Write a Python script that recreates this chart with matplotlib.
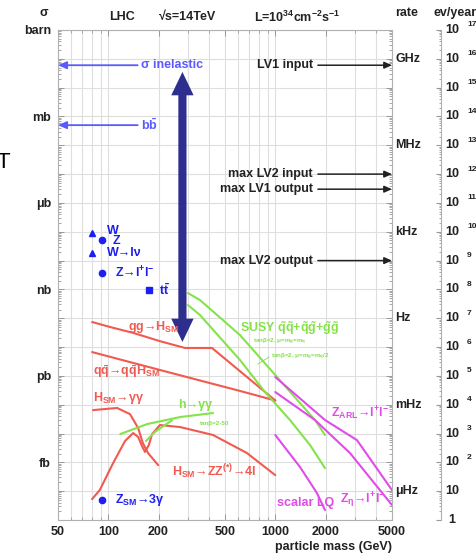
import matplotlib
matplotlib.use("Agg")
import matplotlib.pyplot as plt
import matplotlib.transforms as mtransforms
from matplotlib.ticker import FixedLocator, FuncFormatter, LogLocator, NullFormatter

plt.rcParams['font.family'] = ['Liberation Sans', 'DejaVu Sans']
plt.rcParams['font.weight'] = 'bold'
plt.rcParams['mathtext.default'] = 'regular'

RED = '#f05a50'
GREEN = '#86e24a'
MAGENTA = '#e04ce8'
BLUE = '#1e1ef0'
LIGHT_BLUE = '#5a5aff'
NAVY = '#2e2e8e'
GRID = '#dedede'
FS = 9

# ---------------- data: mass in GeV, cross-section in pb ----------------
sigma_inelastic = 6e10
sigma_bb = 5e8
arrow_left_end = 150          # GeV, start of the horizontal reference arrows

w_mass, w_sigma = 80.4, 9.0e4
z_mass, z_sigma = 91.2, 5.2e4
wlnu_sigma = 1.8e4
zll_sigma = 3.7e3
top_mass, tt_sigma = 175, 950
z3g_sigma = 4.9e-5

gg_h_mass = [80, 102, 141, 204, 288, 418, 1000]
gg_h_sigma = [74, 50, 31, 16, 9.3, 9.3, 0.14]

qq_h_mass = [80, 204, 615, 1000]
qq_h_sigma = [6.7, 1.6, 0.30, 0.14]

h_gamgam_mass = [81, 113, 135, 151, 161, 173, 199]
h_gamgam_sigma = [0.065, 0.077, 0.047, 0.0155, 0.0047, 0.0021, 0.0008]

h_zz_mass = [80, 89, 107, 126, 141, 151, 159, 166, 175, 183, 204, 269, 424, 677, 1000]
h_zz_sigma = [5.3e-5, 1.1e-4, 9.5e-4, 5.5e-3, 1.04e-2, 7.6e-3, 3.7e-3, 2.3e-3,
              4.0e-3, 9.6e-3, 1.97e-2, 1.68e-2, 8.9e-3, 2.1e-3, 3.6e-4]

susy_h_mass_a = [118, 171, 269, 424]
susy_h_sigma_a = [9.6e-3, 0.0213, 0.0373, 0.0514]
susy_h_mass_b = [168, 190, 241]
susy_h_sigma_b = [5.5e-3, 1.13e-2, 2.9e-2]

susy_mass_a = [300, 354, 615, 1000, 1729, 1985]
susy_sigma_a = [748, 428, 26, 1.07, 0.0294, 8.9e-3]
susy_mass_b = [300, 354, 615, 868, 1225, 1614, 1985]
susy_sigma_b = [287, 129, 3.55, 0.275, 0.0294, 4.0e-3, 6.3e-4]

zarl_mass = [1000, 1985, 3085, 5000]
zarl_sigma = [0.91, 0.0294, 5.9e-3, 1.09e-4]
zeta_mass = [1000, 1729, 2802, 5000]
zeta_sigma = [0.275, 0.0294, 2.1e-3, 3.3e-5]
lq_mass = [1000, 1406, 1777, 1985]
lq_sigma = [8.9e-3, 6.9e-4, 8.6e-5, 2.2e-5]

# trigger rates (Hz) at L = 1e34 cm^-2 s^-1 ; sigma[pb] = rate[Hz] * 100
trigger_names = ['LV1 input', 'max LV2 input', 'max LV1 output', 'max LV2 output']
trigger_rates = [6e8, 1e5, 3e4, 1e2]
trigger_start = 1800          # GeV

# span of the double arrow (GeV, pb)
span_mass = 278
span_low, span_high = 15, 3.5e10

# axis labelling
x_ticks = [50, 100, 200, 500, 1000, 2000, 5000]
x_minor = [60, 70, 80, 90, 300, 400, 600, 700, 800, 900, 3000, 4000]
sigma_units = {1e12: 'barn', 1e9: 'mb', 1e6: 'μb', 1e3: 'nb', 1e0: 'pb', 1e-3: 'fb'}
rate_units = {1e9: 'GHz', 1e6: 'MHz', 1e3: 'kHz', 1e0: 'Hz', 1e-3: 'mHz', 1e-6: 'μHz'}

# ---------------- figure ----------------
W, H = 477, 556
L, R, T, B = 58, 392, 30, 520


def fpos(x, y):
    return x / W, 1 - y / H


fig = plt.figure(figsize=(W / 100, H / 100), dpi=100)
ax = fig.add_axes([L / W, 1 - B / H, (R - L) / W, (B - T) / H])
ax.set_xscale('log')
ax.set_yscale('log')
ax.set_xlim(50, 5000)
ax.set_ylim(1e-5, 1e12)

ax.xaxis.set_major_locator(FixedLocator(x_ticks))
ax.xaxis.set_major_formatter(FuncFormatter(lambda v, p: f'{v:g}'))
ax.xaxis.set_minor_locator(FixedLocator(x_minor))
ax.xaxis.set_minor_formatter(NullFormatter())
ax.yaxis.set_major_locator(LogLocator(base=10, numticks=40))


def ylab(v, p):
    for k, s in sigma_units.items():
        if abs(v / k - 1) < 1e-3:
            return s
    return ''


ax.yaxis.set_major_formatter(FuncFormatter(ylab))
ax.yaxis.set_minor_locator(LogLocator(base=10, subs=[2, 3, 4, 5, 6, 7, 8, 9], numticks=40))
ax.yaxis.set_minor_formatter(NullFormatter())
ax.tick_params(which='both', direction='in', top=True, right=True, color='#999999',
               labelsize=FS, labelcolor='#222222')
ax.tick_params(which='major', length=4, width=0.7)
ax.tick_params(which='minor', length=2, width=0.6)
ax.tick_params(axis='x', pad=4)
ax.tick_params(axis='y', pad=5)
for sp in ax.spines.values():
    sp.set_color('#b0b0b0')
    sp.set_linewidth(0.8)
ax.grid(True, axis='x', which='both', color=GRID, lw=0.8)
ax.grid(True, axis='y', which='major', color=GRID, lw=0.8)
ax.set_axisbelow(True)

# reference arrows on the left
for val, lab in [(sigma_inelastic, 'σ inelastic'), (sigma_bb, r'b$\bar{b}$')]:
    ax.annotate('', xy=(50, val), xytext=(arrow_left_end, val),
                arrowprops=dict(arrowstyle='-|>,head_length=0.5,head_width=0.22',
                                mutation_scale=10, color=LIGHT_BLUE, lw=1.3,
                                shrinkA=0, shrinkB=0), annotation_clip=False)
    ax.text(arrow_left_end * 1.05, val, lab, color=LIGHT_BLUE, fontsize=FS,
            va='center', ha='left')

# trigger levels on the right
for name, rate in zip(trigger_names, trigger_rates):
    s = rate * 100
    ax.annotate('', xy=(5000, s), xytext=(trigger_start, s),
                arrowprops=dict(arrowstyle='-|>,head_length=0.45,head_width=0.2',
                                mutation_scale=10, color='#222222', lw=1.1,
                                shrinkA=0, shrinkB=0), annotation_clip=False)
    ax.text(trigger_start * 0.935, s, name, color='#222222', fontsize=FS,
            va='center', ha='right')

# double arrow spanning the cross-section range
span_mid = (span_low * span_high) ** 0.5
for end in (span_high, span_low):
    ax.annotate('', xy=(span_mass, end), xytext=(span_mass, span_mid),
                arrowprops=dict(arrowstyle='simple,head_length=1.2,head_width=1.15,tail_width=0.42',
                                mutation_scale=14, color=NAVY, lw=0,
                                shrinkA=0, shrinkB=0))

# standard model points
ax.plot([w_mass, w_mass], [w_sigma, wlnu_sigma], '^', color=BLUE, ms=4)
ax.plot([z_mass, z_mass, z_mass], [z_sigma, zll_sigma, z3g_sigma], 'o', color=BLUE, ms=4.5)
ax.plot([top_mass], [tt_sigma], 's', color=BLUE, ms=4.5)
ax.text(98, 1.1e5, 'W', color=BLUE, fontsize=FS, va='center')
ax.text(106, 4.7e4, 'Z', color=BLUE, fontsize=FS, va='center')
ax.text(98, wlnu_sigma, 'W→lν', color=BLUE, fontsize=FS, va='center')
ax.text(110, zll_sigma, r'Z→l$^{+}$l$^{-}$', color=BLUE, fontsize=FS, va='center')
ax.text(200, tt_sigma, r't$\bar{t}$', color=BLUE, fontsize=FS, va='center')
ax.text(110, z3g_sigma, r'Z$_{SM}$→3γ', color=BLUE, fontsize=FS, va='center')

# SM Higgs
kw = dict(lw=1.5, solid_joinstyle='round', solid_capstyle='round')
ax.plot(gg_h_mass, gg_h_sigma, color=RED, **kw)
ax.plot(qq_h_mass, qq_h_sigma, color=RED, **kw)
ax.plot(h_gamgam_mass, h_gamgam_sigma, color=RED, **kw)
ax.plot(h_zz_mass, h_zz_sigma, color=RED, **kw)
ax.text(131, 49, r'gg→H$_{SM}$', color=RED, fontsize=FS, va='center')
ax.text(81, 1.36, r'q$\bar{q}$→q$\bar{q}$H$_{SM}$', color=RED, fontsize=FS, va='center')
ax.text(81, 0.17, r'H$_{SM}$→γγ', color=RED, fontsize=FS, va='center')
ax.text(241, 4.6e-4, r'H$_{SM}$→ZZ$^{(*)}$→4l', color=RED, fontsize=FS, va='center')

# SUSY
ax.plot(susy_h_mass_a, susy_h_sigma_a, color=GREEN, **kw)
ax.plot(susy_h_mass_b, susy_h_sigma_b, color=GREEN, **kw)
ax.plot(susy_mass_a, susy_sigma_a, color=GREEN, **kw)
ax.plot(susy_mass_b, susy_sigma_b, color=GREEN, **kw)
ax.text(261, 0.097, 'h→γγ', color=GREEN, fontsize=FS, va='center')
ax.text(354, 0.023, 'tanβ=2-50', color=GREEN, fontsize=4.5, va='center')
ax.text(615, 46, r'SUSY $\tilde{q}\tilde{q}$+$\tilde{q}\tilde{g}$+$\tilde{g}\tilde{g}$',
        color=GREEN, fontsize=FS, va='center')
ax.text(736, 14.9, r'tanβ=2, μ=m$_{\tilde{g}}$=m$_{\tilde{q}}$', color=GREEN,
        fontsize=4.5, va='center')
ax.text(943, 4.5, r'tanβ=2, μ=m$_{\tilde{g}}$=m$_{\tilde{q}}$/2', color=GREEN,
        fontsize=4.5, va='center')
ax.plot([788, 917], [2.58, 4.5], color=GREEN, lw=0.6)

# exotics
ax.plot(zarl_mass, zarl_sigma, color=MAGENTA, **kw)
ax.plot(zeta_mass, zeta_sigma, color=MAGENTA, **kw)
ax.plot(lq_mass, lq_sigma, color=MAGENTA, **kw)
ax.text(2150, 0.052, r'Z$_{ARL}$→l$^{+}$l$^{-}$', color=MAGENTA, fontsize=FS, va='center')
ax.text(2450, 5e-5, r'Z$_{η}$→l$^{+}$l$^{-}$', color=MAGENTA, fontsize=FS, va='center')
ax.text(1030, 4.0e-5, 'scalar LQ', color=MAGENTA, fontsize=FS, va='center')

# rate scale next to the frame
rate_tr = mtransforms.blended_transform_factory(ax.transAxes, ax.transData)
for hz, lab in rate_units.items():
    ax.text(1.009, hz * 100, lab, transform=rate_tr, fontsize=FS, color='#222222',
            va='center', ha='left')

# events per year scale
ax2 = fig.add_axes([441 / W, 1 - B / H, 0.0001, (B - T) / H])
ax2.set_yscale('log')
ax2.set_ylim(1, 1e17)
ax2.set_xticks([])
for k in ('top', 'right', 'bottom'):
    ax2.spines[k].set_visible(False)
ax2.spines['left'].set_color('#b0b0b0')
ax2.spines['left'].set_linewidth(0.8)
ax2.yaxis.set_major_locator(LogLocator(base=10, numticks=40))
ax2.yaxis.set_minor_locator(LogLocator(base=10, subs=[2, 3, 4, 5, 6, 7, 8, 9], numticks=40))
ax2.yaxis.set_major_formatter(NullFormatter())
ax2.yaxis.set_minor_formatter(NullFormatter())
ax2.tick_params(which='major', length=3.5, color='#999999')
ax2.tick_params(which='minor', length=1.8, color='#999999')
ev_tr = mtransforms.blended_transform_factory(fig.transFigure, ax2.transData)
up = mtransforms.offset_copy(ev_tr, fig=fig, x=0, y=5, units='dots')
for k in range(18):
    if k == 0:
        ax2.text(448 / W, 1, '1', transform=ev_tr, fontsize=FS, va='center', ha='left', color='#222222')
    elif k == 1:
        ax2.text(445 / W, 10, '10', transform=ev_tr, fontsize=FS, va='center', ha='left', color='#222222')
    else:
        ax2.text(445 / W, 10.0 ** k, '10', transform=ev_tr, fontsize=FS, va='center', ha='left', color='#222222')
        ax2.text(467 / W, 10.0 ** k, str(k), transform=up, fontsize=6, va='center', ha='left', color='#222222')

# header texts
hdr = dict(fontsize=FS, color='#222222', va='center')
fig.text(*fpos(44, 13), 'σ', ha='center', **hdr)
fig.text(*fpos(122, 17), 'LHC', ha='center', **hdr)
fig.text(*fpos(188, 17), '√s=14TeV', ha='center', **hdr)
fig.text(*fpos(297, 17), r'L=10$^{34}$cm$^{-2}$s$^{-1}$', ha='center', **hdr)
fig.text(*fpos(407, 13), 'rate', ha='center', **hdr)
fig.text(*fpos(434, 13), 'ev/year', ha='left', **hdr)
fig.text(*fpos(392, 547), 'particle mass (GeV)', ha='right', **hdr)

# fragments at the left margin
fig.text(*fpos(3, 163), 'T', ha='center', va='center', fontsize=16,
         fontweight='normal', color='black')

fig.savefig('out.png', dpi=100)
